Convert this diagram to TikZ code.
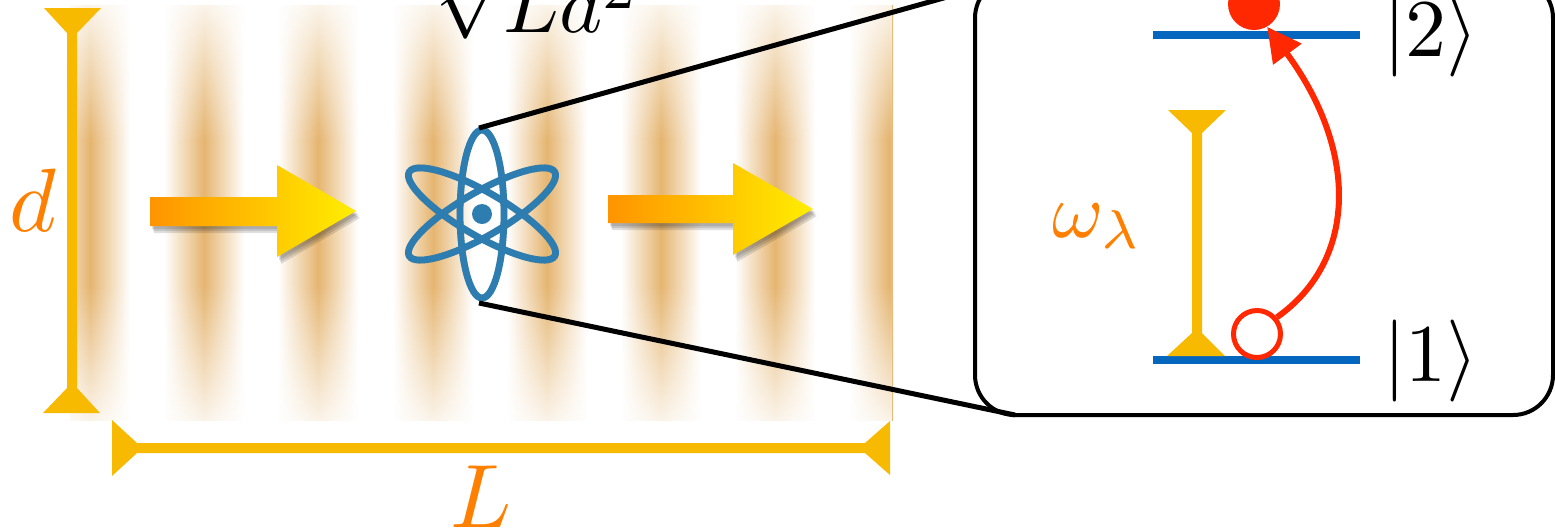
\documentclass[tikz,border=0pt]{standalone}
\usetikzlibrary{fadings,arrows.meta}

\definecolor{chalk}{RGB}{247,186,0}
\definecolor{lbl}{RGB}{255,128,0}
\definecolor{stripecol}{RGB}{229,181,112}
\definecolor{atomblue}{RGB}{46,125,176}
\definecolor{levelblue}{RGB}{5,102,190}
\definecolor{exc}{RGB}{255,40,0}
\definecolor{arrL}{RGB}{255,148,0}
\definecolor{arrR}{RGB}{255,238,0}

\tikzfading[name=stripefade, left color=transparent!100, right color=transparent!100, middle color=transparent!0]

\begin{document}
\begin{tikzpicture}[x=0.5pt,y=-0.5pt,
  chalkbar/.style={fill=chalk},
  biglabel/.style={text=lbl, inner sep=0pt, scale=4.5},
  ketlabel/.style={inner sep=0pt, scale=4.1},
  zoomline/.style={black, line width=2.5pt},
  boxstyle/.style={draw=black, line width=2pt, rounded corners=20pt, outer sep=0pt, inner sep=0pt},
  orbit/.style={draw=atomblue, line width=3.4pt},
  level/.style={levelblue, line width=4pt},
  flowarrow/.style={left color=arrL, right color=arrR},
  arrshadow/.style={fill=black, fill opacity=0.12},
]
\useasboundingbox (0,0) rectangle (1555,527);
\clip (0,0) rectangle (1555,527);

% standing-wave intensity stripes
\begin{scope}
  \clip (70,5) rectangle (893,421);
  \foreach \cx in {90,204,318,433,547,661,775,889}
    \fill[stripecol, path fading=stripefade] (\cx-40,5) rectangle (\cx+40,421);
  \fill[white, fill opacity=0.85, path fading=south] (70,5) rectangle (893,140);
  \fill[white, fill opacity=0.85, path fading=north] (70,285) rectangle (893,421);
\end{scope}

% cavity dimensions d and L
\fill[chalkbar] (44,8) -- (101,8) -- (77,33) -- (77,388) -- (100,413) -- (43,413) -- (67,388) -- (67,33) -- cycle;
\node[biglabel] (dlab) at (33,200) {$d$};
\fill[chalkbar] (112,420) -- (137,443) -- (865,443) -- (890,421) -- (890,475) -- (865,453) -- (137,453) -- (112,476) -- cycle;
\node[biglabel] (Llab) at (481,497) {$L$};

% mode volume label
\node[ketlabel, anchor=base] (vol) at (537,32) {$\sqrt{Ld^2}$};

% propagation arrows
\foreach \dx/\dy in {2/3,3/5,4/7}{
  \fill[arrshadow, shift={(\dx,\dy)}] (150,197) -- (277,197) -- (277,165) -- (356,211) -- (277,257) -- (277,226) -- (150,226) -- cycle;
  \fill[arrshadow, shift={(\dx,\dy)}] (608,195) -- (733,195) -- (733,163) -- (813,209) -- (733,255) -- (733,223) -- (608,223) -- cycle;
}
\shade[flowarrow] (150,197) -- (277,197) -- (277,165) -- (356,211) -- (277,257) -- (277,226) -- (150,226) -- cycle;
\shade[flowarrow] (608,195) -- (733,195) -- (733,163) -- (813,209) -- (733,255) -- (733,223) -- (608,223) -- cycle;

% atom
\coordinate (atom) at (482,214);
\begin{scope}[shift={(2,4)}, opacity=0.18]
  \foreach \a in {0,60,120}
    \draw[line width=3.4pt, black, rotate around={\a:(atom)}] (atom) ellipse [x radius=22, y radius=84];
\end{scope}
\foreach \a in {0,60,120}
  \draw[orbit, rotate around={\a:(atom)}] (atom) ellipse [x radius=22, y radius=84];
\fill[atomblue] (atom) circle [radius=10];
\coordinate (atomtop) at (479,128);
\coordinate (atombot) at (479,303);

% magnified two-level system
\node[boxstyle, minimum width=289pt, minimum height=218.5pt, anchor=north west] (box) at (975,-22) {};
\draw[zoomline] (atomtop) -- ([xshift=20pt]box.north west);
\draw[zoomline] (atombot) -- ([xshift=20pt]box.south west);

\draw[level] (1153,35) coordinate (l2a) -- (1360,35) coordinate (l2b);
\draw[level] (1153,360) coordinate (l1a) -- (1360,360) coordinate (l1b);
\node[ketlabel] (k2) at (1431,36) {$|2\rangle$};
\node[ketlabel] (k1) at (1431,361) {$|1\rangle$};

\fill[chalkbar] (1168,110) -- (1226,110) -- (1202,133) -- (1202,333) -- (1225,356) -- (1167,356) -- (1192,333) -- (1192,133) -- cycle;
\node[text=lbl, inner sep=0pt, scale=3.9, anchor=base west] (wl) at (1051,237) {$\omega_\lambda$};

\node[circle, fill=exc, minimum size=26pt, inner sep=0pt] (exc) at (1254,4) {};
\node[circle, draw=exc, fill=white, line width=2.5pt, minimum size=23.5pt, inner sep=0pt] (gnd) at (1257,334) {};
\draw[exc, line width=3pt, -{Triangle[length=17pt,width=17pt]}] (gnd.40) .. controls (1358,260) and (1358,150) .. (exc.-60);
\end{tikzpicture}
\end{document}
